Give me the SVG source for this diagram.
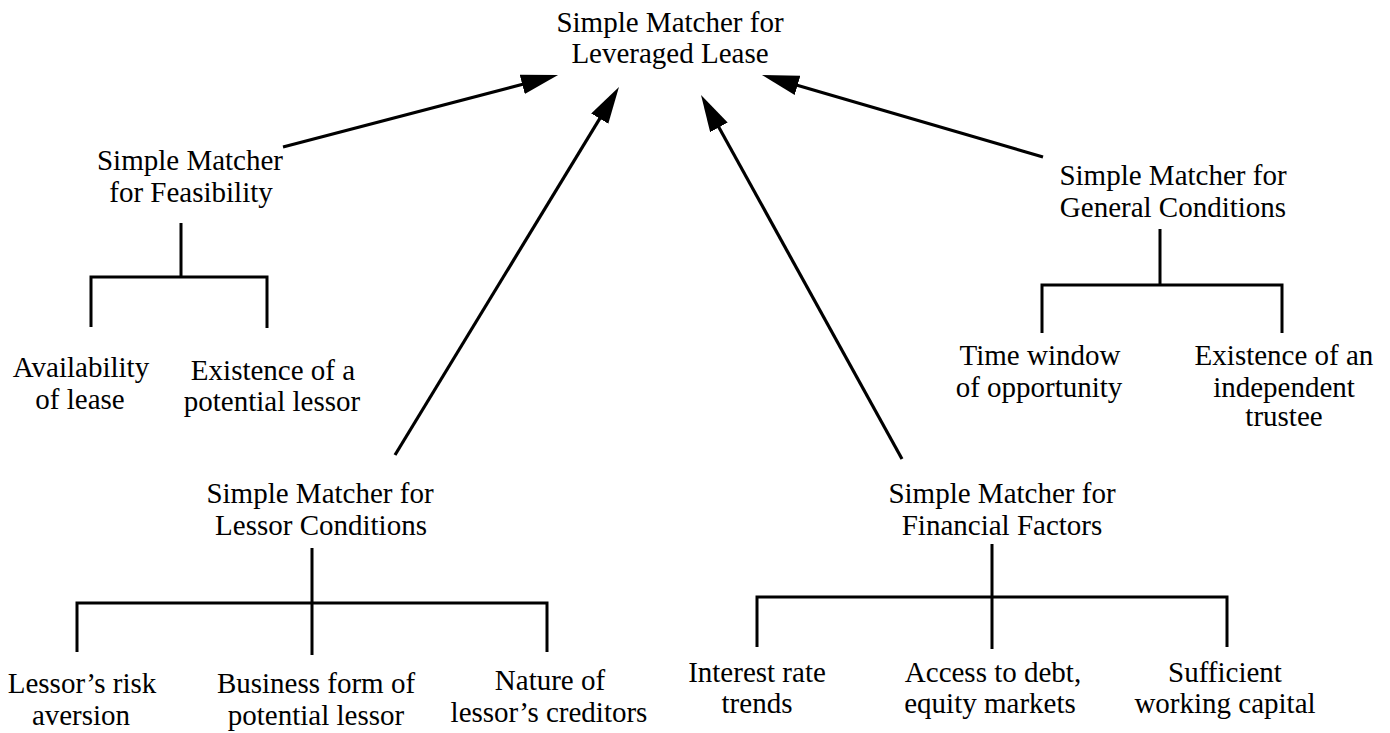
<svg xmlns="http://www.w3.org/2000/svg" width="1390" height="733" viewBox="0 0 1390 733">
<style>
text{font-family:"Liberation Serif","Times New Roman",serif;font-size:29px;fill:#000;text-anchor:middle}
.tree{fill:none;stroke:#000;stroke-width:3;stroke-linecap:butt;stroke-linejoin:miter}
.arr{fill:none;stroke:#000;stroke-width:3.2;marker-end:url(#ah)}
</style>
<defs>
<marker id="ah" markerUnits="userSpaceOnUse" markerWidth="40" markerHeight="22" refX="29" refY="10" orient="auto">
<path d="M0,0 L37,10 L0,20 Z" fill="#000"/>
</marker>
</defs>
<rect width="1390" height="733" fill="#fff"/>
<g id="connectors">
<line class="arr" x1="283" y1="147" x2="550.3" y2="77"/>
<line class="arr" x1="395" y1="455" x2="614.8" y2="93.8"/>
<line class="arr" x1="902" y1="459" x2="704.9" y2="102"/>
<line class="arr" x1="1043" y1="157" x2="769.7" y2="77.2"/>
</g>
<g id="node-top">
<text x="670" y="32">Simple Matcher for</text>
<text x="670" y="63">Leveraged Lease</text>
</g>
<g id="node-feasibility">
<text x="190" y="170">Simple Matcher</text>
<text x="191" y="202">for Feasibility</text>
<path class="tree" d="M181,223 V277 M91,327 V277 H267 V328"/>
</g>
<g id="leaf-availability"><text x="81" y="377">Availability</text><text x="80" y="409">of lease</text></g>
<g id="leaf-lessor-existence"><text x="273" y="380">Existence of a</text><text x="272" y="411">potential lessor</text></g>
<g id="node-general">
<text x="1173" y="185">Simple Matcher for</text>
<text x="1173" y="217">General Conditions</text>
<path class="tree" d="M1160,229 V285 M1042,333 V285 H1282 V333"/>
</g>
<g id="leaf-time"><text x="1040" y="365">Time window</text><text x="1039" y="397">of opportunity</text></g>
<g id="leaf-trustee"><text x="1284" y="365">Existence of an</text><text x="1284" y="397">independent</text><text x="1284" y="426">trustee</text></g>
<g id="node-lessor">
<text x="320" y="503">Simple Matcher for</text>
<text x="321" y="535">Lessor Conditions</text>
<path class="tree" d="M312,548 V655 M77,652 V603 H547 V652"/>
</g>
<g id="leaf-risk"><text x="82" y="693">Lessor’s risk</text><text x="81" y="725">aversion</text></g>
<g id="leaf-business"><text x="316" y="693">Business form of</text><text x="316" y="725">potential lessor</text></g>
<g id="leaf-nature"><text x="550" y="690">Nature of</text><text x="549" y="722">lessor’s creditors</text></g>
<g id="node-financial">
<text x="1002" y="503">Simple Matcher for</text>
<text x="1002" y="535">Financial Factors</text>
<path class="tree" d="M992,544 V649 M757,647 V597 H1227 V647"/>
</g>
<g id="leaf-interest"><text x="757" y="682">Interest rate</text><text x="757" y="713">trends</text></g>
<g id="leaf-access"><text x="993" y="682">Access to debt,</text><text x="990" y="713">equity markets</text></g>
<g id="leaf-capital"><text x="1225" y="682">Sufficient</text><text x="1225" y="713">working capital</text></g>
</svg>
